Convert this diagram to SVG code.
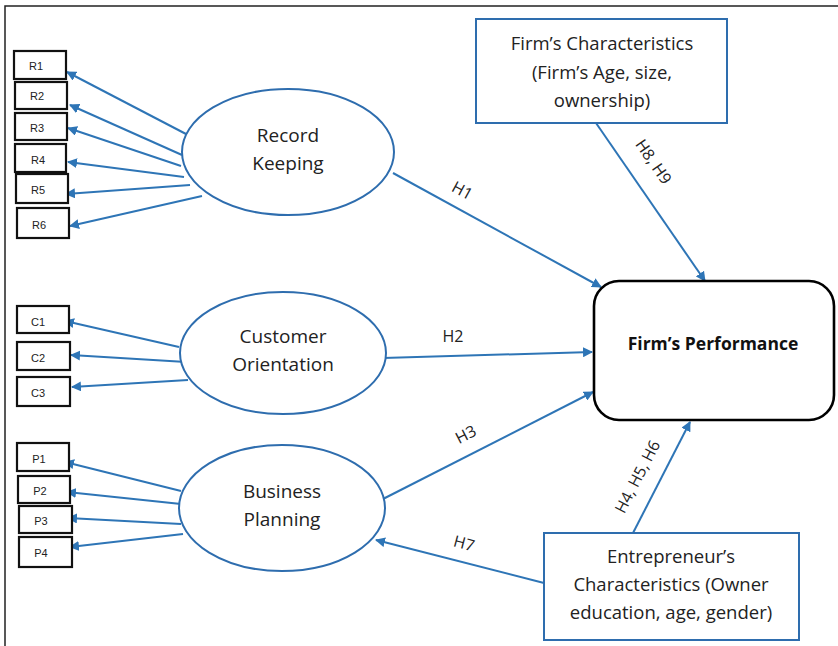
<svg xmlns="http://www.w3.org/2000/svg" width="838" height="646" viewBox="0 0 838 646">
  <defs>
    <marker id="arrow" viewBox="0 0 10 10" refX="9" refY="5" markerWidth="10" markerHeight="10" markerUnits="userSpaceOnUse" orient="auto">
      <path d="M0,0 L10,5 L0,10 z" fill="#2E75B6"/>
    </marker>
    <style>
      .frame { stroke: #222; stroke-width: 1.5; fill: none; }
      .item { fill: #fff; stroke: #111; stroke-width: 2.2; }
      .item-text { font-family: "Liberation Sans", Arial, sans-serif; font-size: 11px; fill: #222; text-anchor: middle; }
      .construct { fill: #fff; stroke: #2E6DAE; stroke-width: 2; }
      .construct-text { font-family: "Open Sans", "Liberation Sans", sans-serif; font-size: 19px; fill: #222; text-anchor: middle; }
      .box { fill: #fff; stroke: #2E6DAE; stroke-width: 2; }
      .box-text { font-family: "Open Sans", "Liberation Sans", sans-serif; font-size: 18.5px; fill: #222; text-anchor: middle; }
      .outcome { fill: #fff; stroke: #000; stroke-width: 2.6; }
      .outcome-text { font-family: "Open Sans", "Liberation Sans", sans-serif; font-size: 17.5px; font-weight: bold; fill: #111; text-anchor: middle; }
      .link { stroke: #2E75B6; stroke-width: 2; fill: none; marker-end: url(#arrow); }
      .label { font-family: "Open Sans", "Liberation Sans", sans-serif; font-size: 16px; fill: #222; text-anchor: middle; }
    </style>
  </defs>

  <rect width="838" height="646" fill="#fff"/>
  <!-- outer frame (top and left edges) -->
  <path class="frame" d="M5,646 L5,6 L838,6"/>

  <!-- connectors -->
  <g id="connectors">
    <!-- Record Keeping indicators -->
    <line class="link" x1="186" y1="134" x2="67" y2="72"/>
    <line class="link" x1="182" y1="155" x2="70" y2="105"/>
    <line class="link" x1="181" y1="166" x2="68" y2="128"/>
    <line class="link" x1="184" y1="177" x2="68" y2="162"/>
    <line class="link" x1="190" y1="185" x2="66" y2="194"/>
    <line class="link" x1="202" y1="196" x2="70" y2="226"/>
    <!-- Customer Orientation indicators -->
    <line class="link" x1="179" y1="347" x2="65" y2="321"/>
    <line class="link" x1="186" y1="362" x2="71" y2="355"/>
    <line class="link" x1="188" y1="380" x2="72" y2="387"/>
    <!-- Business Planning indicators -->
    <line class="link" x1="181" y1="491" x2="65" y2="462"/>
    <line class="link" x1="181" y1="504" x2="67" y2="492"/>
    <line class="link" x1="181" y1="524" x2="68" y2="518"/>
    <line class="link" x1="183" y1="534" x2="70" y2="547"/>
    <!-- hypotheses -->
    <line class="link" x1="393" y1="173" x2="601" y2="287"/>
    <line class="link" x1="383" y1="358" x2="592" y2="352"/>
    <line class="link" x1="383" y1="499" x2="593" y2="392"/>
    <line class="link" x1="596" y1="123" x2="705" y2="281"/>
    <line class="link" x1="633" y1="533" x2="690" y2="422"/>
    <line class="link" x1="544" y1="583" x2="376" y2="540"/>

    <text class="label" transform="translate(462,191) rotate(28.6)" dy="5">H1</text>
    <text class="label" x="453" y="342">H2</text>
    <text class="label" transform="translate(466,435) rotate(-27)" dy="5">H3</text>
    <text class="label" transform="translate(464,544) rotate(15)" dy="5">H7</text>
    <text class="label" transform="translate(653,162) rotate(55.4)" dy="5">H8, H9</text>
    <text class="label" transform="translate(638,477) rotate(-62.6)" dy="5">H4, H5, H6</text>
  </g>

  <!-- indicator boxes -->
  <g id="R1"><rect class="item" x="14" y="51" width="52" height="28"/><text class="item-text" x="36" y="70">R1</text></g>
  <g id="R2"><rect class="item" x="15" y="82" width="52" height="27"/><text class="item-text" x="37" y="100">R2</text></g>
  <g id="R3"><rect class="item" x="15" y="113" width="52" height="27"/><text class="item-text" x="37" y="132">R3</text></g>
  <g id="R4"><rect class="item" x="15" y="144" width="51" height="28"/><text class="item-text" x="38" y="164">R4</text></g>
  <g id="R5"><rect class="item" x="16" y="174" width="52" height="29"/><text class="item-text" x="38" y="194">R5</text></g>
  <g id="R6"><rect class="item" x="17" y="208" width="52" height="30"/><text class="item-text" x="39" y="229">R6</text></g>

  <g id="C1"><rect class="item" x="17" y="306" width="52" height="27"/><text class="item-text" x="38" y="326">C1</text></g>
  <g id="C2"><rect class="item" x="17" y="342" width="53" height="28"/><text class="item-text" x="38" y="362">C2</text></g>
  <g id="C3"><rect class="item" x="17" y="377" width="53" height="29"/><text class="item-text" x="38" y="397">C3</text></g>

  <g id="P1"><rect class="item" x="17" y="443" width="52" height="28"/><text class="item-text" x="39" y="463">P1</text></g>
  <g id="P2"><rect class="item" x="18" y="476" width="52" height="27"/><text class="item-text" x="40" y="495">P2</text></g>
  <g id="P3"><rect class="item" x="19" y="506" width="53" height="27"/><text class="item-text" x="41" y="525">P3</text></g>
  <g id="P4"><rect class="item" x="19" y="537" width="53" height="30"/><text class="item-text" x="41" y="557">P4</text></g>

  <!-- constructs -->
  <g id="record-keeping">
    <ellipse class="construct" cx="288" cy="152" rx="106" ry="63"/>
    <text class="construct-text" x="288" y="142">Record</text>
    <text class="construct-text" x="288" y="170">Keeping</text>
  </g>
  <g id="customer-orientation">
    <ellipse class="construct" cx="283" cy="353" rx="103" ry="61"/>
    <text class="construct-text" x="283" y="343">Customer</text>
    <text class="construct-text" x="283" y="371">Orientation</text>
  </g>
  <g id="business-planning">
    <ellipse class="construct" cx="282" cy="508" rx="103" ry="63"/>
    <text class="construct-text" x="282" y="498">Business</text>
    <text class="construct-text" x="282" y="526">Planning</text>
  </g>

  <g id="firm-characteristics">
    <rect class="box" x="476" y="19" width="251" height="104"/>
    <text class="box-text" x="602" y="50">Firm’s Characteristics</text>
    <text class="box-text" x="602" y="79">(Firm’s Age, size,</text>
    <text class="box-text" x="602" y="107">ownership)</text>
  </g>

  <g id="firm-performance">
    <rect class="outcome" x="594" y="281" width="240" height="139" rx="25" ry="25"/>
    <text class="outcome-text" x="713" y="350">Firm’s Performance</text>
  </g>

  <g id="entrepreneur-characteristics">
    <rect class="box" x="544" y="533" width="255" height="107"/>
    <text class="box-text" x="671" y="563">Entrepreneur’s</text>
    <text class="box-text" x="671" y="591">Characteristics (Owner</text>
    <text class="box-text" x="671" y="619">education, age, gender)</text>
  </g>
</svg>
